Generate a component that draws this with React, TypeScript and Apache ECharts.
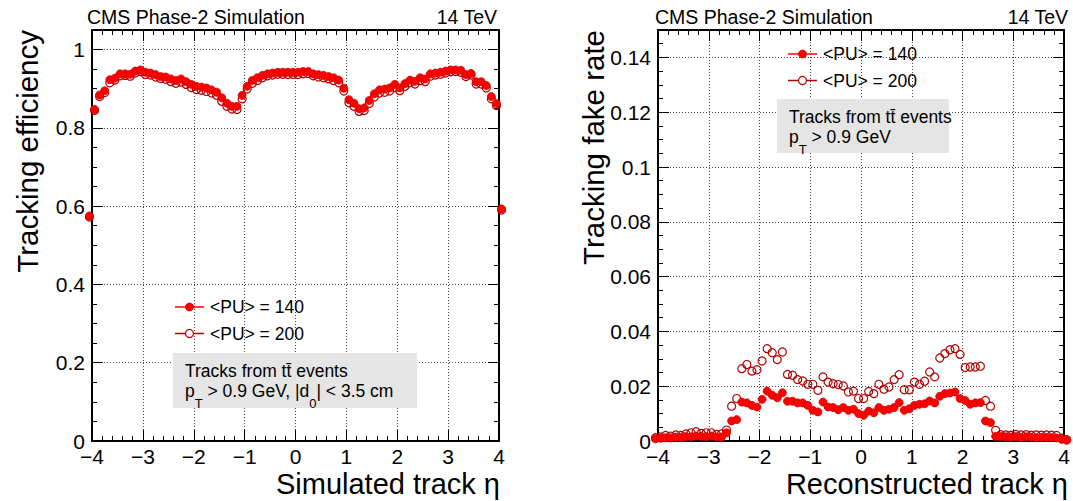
import React, { useEffect, useRef } from "react";
import * as echarts from "echarts";

// Bin centres in eta (0.1 wide bins)
const ETA = [
  -4.05, -3.95, -3.85, -3.75, -3.65, -3.55, -3.45, -3.35, -3.25, -3.15,
  -3.05, -2.95, -2.85, -2.75, -2.65, -2.55, -2.45, -2.35, -2.25, -2.15,
  -2.05, -1.95, -1.85, -1.75, -1.65, -1.55, -1.45, -1.35, -1.25, -1.15,
  -1.05, -0.95, -0.85, -0.75, -0.65, -0.55, -0.45, -0.35, -0.25, -0.15,
  -0.05, 0.05, 0.15, 0.25, 0.35, 0.45, 0.55, 0.65, 0.75, 0.85,
  0.95, 1.05, 1.15, 1.25, 1.35, 1.45, 1.55, 1.65, 1.75, 1.85,
  1.95, 2.05, 2.15, 2.25, 2.35, 2.45, 2.55, 2.65, 2.75, 2.85,
  2.95, 3.05, 3.15, 3.25, 3.35, 3.45, 3.55, 3.65, 3.75, 3.85,
  3.95, 4.05,
];

const EFF_PU140 = [
  0.575, 0.847, 0.884, 0.895, 0.923, 0.927, 0.938, 0.938, 0.937, 0.945,
  0.948, 0.942, 0.940, 0.936, 0.931, 0.930, 0.925, 0.921, 0.925, 0.918,
  0.911, 0.906, 0.904, 0.902, 0.897, 0.891, 0.877, 0.863, 0.855, 0.855,
  0.883, 0.906, 0.921, 0.928, 0.934, 0.938, 0.940, 0.942, 0.942, 0.942,
  0.942, 0.942, 0.944, 0.944, 0.938, 0.936, 0.934, 0.931, 0.928, 0.922,
  0.901, 0.872, 0.863, 0.849, 0.851, 0.870, 0.887, 0.897, 0.899, 0.902,
  0.911, 0.902, 0.913, 0.922, 0.919, 0.928, 0.925, 0.938, 0.940, 0.942,
  0.945, 0.948, 0.948, 0.947, 0.936, 0.939, 0.918, 0.918, 0.908, 0.880,
  0.862, 0.593,
];

const EFF_PU200 = [
  0.572, 0.845, 0.880, 0.890, 0.915, 0.922, 0.933, 0.934, 0.932, 0.940,
  0.944, 0.936, 0.935, 0.930, 0.926, 0.924, 0.918, 0.914, 0.917, 0.911,
  0.903, 0.898, 0.896, 0.893, 0.889, 0.883, 0.868, 0.855, 0.848, 0.847,
  0.874, 0.899, 0.914, 0.921, 0.928, 0.933, 0.935, 0.937, 0.937, 0.936,
  0.937, 0.936, 0.938, 0.939, 0.933, 0.930, 0.928, 0.925, 0.921, 0.915,
  0.894, 0.864, 0.855, 0.842, 0.844, 0.862, 0.879, 0.889, 0.891, 0.894,
  0.903, 0.895, 0.906, 0.915, 0.912, 0.921, 0.918, 0.932, 0.935, 0.937,
  0.940, 0.943, 0.944, 0.942, 0.931, 0.935, 0.912, 0.912, 0.902, 0.874,
  0.857, 0.590,
];

const FAKE_PU140 = [
  0.0008, 0.0010, 0.0012, 0.0011, 0.0014, 0.0013, 0.0016, 0.0015, 0.0018, 0.0017,
  0.0016, 0.0018, 0.0015, 0.0014, 0.0030, 0.0073, 0.0078, 0.0142, 0.0139, 0.0130,
  0.0124, 0.0152, 0.0182, 0.0167, 0.0158, 0.0176, 0.0145, 0.0145, 0.0139, 0.0139,
  0.0130, 0.0112, 0.0106, 0.0142, 0.0124, 0.0122, 0.0114, 0.0122, 0.0112, 0.0116,
  0.0100, 0.0094, 0.0109, 0.0103, 0.0122, 0.0112, 0.0116, 0.0122, 0.0140, 0.0112,
  0.0118, 0.0130, 0.0134, 0.0136, 0.0146, 0.0139, 0.0163, 0.0173, 0.0175, 0.0179,
  0.0155, 0.0148, 0.0134, 0.0139, 0.0140, 0.0073, 0.0067, 0.0017, 0.0016, 0.0015,
  0.0014, 0.0016, 0.0013, 0.0015, 0.0014, 0.0012, 0.0013, 0.0013, 0.0012, 0.0011,
  0.0006, 0.0003,
];

const FAKE_PU200 = [
  0.0012, 0.0015, 0.0020, 0.0018, 0.0022, 0.0020, 0.0026, 0.0030, 0.0034, 0.0028,
  0.0030, 0.0030, 0.0024, 0.0026, 0.0040, 0.0127, 0.0155, 0.0264, 0.0279, 0.0255,
  0.0260, 0.0292, 0.0337, 0.0322, 0.0297, 0.0325, 0.0243, 0.0240, 0.0224, 0.0219,
  0.0207, 0.0207, 0.0185, 0.0234, 0.0215, 0.0209, 0.0206, 0.0201, 0.0179, 0.0182,
  0.0155, 0.0155, 0.0181, 0.0173, 0.0207, 0.0189, 0.0197, 0.0224, 0.0242, 0.0187,
  0.0187, 0.0215, 0.0207, 0.0218, 0.0252, 0.0234, 0.0303, 0.0319, 0.0333, 0.0337,
  0.0316, 0.0268, 0.0270, 0.0270, 0.0273, 0.0148, 0.0127, 0.0039, 0.0023, 0.0022,
  0.0021, 0.0024, 0.0022, 0.0023, 0.0021, 0.0022, 0.0021, 0.0022, 0.0021, 0.0020,
  0.0010, 0.0005,
];

const X_TICKS = { min: -4, max: 4, interval: 1, minorSplit: 5 };
const EFF_AXIS = { min: 0, max: 1.05, interval: 0.2, minorInterval: 0.05 };
const FAKE_AXIS = { min: 0, max: 0.15, interval: 0.02, minorInterval: 0.005 };

const SERIES_NAMES = ["<PU> = 140", "<PU> = 200"];
const HEADER_LEFT = "CMS Phase-2 Simulation";
const HEADER_RIGHT = "14 TeV";

const FONT = "'Liberation Sans', Arial, Helvetica, sans-serif";
const RED = "#ff0000";
const DARKRED = "#b00000";

const GRIDS = [
  { left: 92, top: 30, width: 407, height: 411 },
  { left: 658, top: 30, width: 407, height: 411 },
];

function pairs(xs: number[], ys: number[]) {
  return xs.map((x, i) => [x, ys[i]]);
}

function minusFmt(v: number) {
  const r = Math.round(v);
  return r < 0 ? "\u2212" + Math.abs(r) : String(r);
}

function yFmt(interval: number) {
  return (v: number) => {
    const k = v / interval;
    if (Math.abs(k - Math.round(k)) > 1e-6) return "";
    return String(parseFloat(v.toFixed(4)));
  };
}

function xAxes(gi: number) {
  const common = {
    type: "value",
    gridIndex: gi,
    min: X_TICKS.min,
    max: X_TICKS.max,
    interval: X_TICKS.interval,
    axisLine: { show: true, onZero: false, lineStyle: { color: "#000", width: 2 } },
    axisTick: { show: true, inside: true, length: 11, lineStyle: { color: "#000", width: 1 } },
    minorTick: { show: true, splitNumber: X_TICKS.minorSplit, length: 5, lineStyle: { color: "#000", width: 1 } },
  };
  return [
    {
      ...common,
      position: "bottom",
      axisLabel: { show: true, margin: 5, fontSize: 21, color: "#000", fontFamily: FONT, formatter: minusFmt },
      splitLine: { show: true, lineStyle: { color: "#444", type: [1, 2], width: 1 } },
    },
    {
      ...common,
      position: "top",
      axisLabel: { show: false },
      splitLine: { show: false },
    },
  ];
}

function yAxes(gi: number, ax: { min: number; max: number; interval: number; minorInterval: number }) {
  const major = {
    type: "value",
    gridIndex: gi,
    min: ax.min,
    max: ax.max,
    interval: ax.interval,
    axisLine: { show: true, onZero: false, lineStyle: { color: "#000", width: 2 } },
    axisTick: { show: true, inside: true, length: 11, lineStyle: { color: "#000", width: 1 } },
  };
  const minor = {
    type: "value",
    gridIndex: gi,
    min: ax.min,
    max: ax.max,
    interval: ax.minorInterval,
    axisLine: { show: false, onZero: false },
    axisTick: { show: true, inside: true, length: 5, lineStyle: { color: "#000", width: 1 } },
    axisLabel: { show: false },
    splitLine: { show: false },
  };
  return [
    {
      ...major,
      position: "left",
      axisLabel: { show: true, margin: 7, fontSize: 21, color: "#000", fontFamily: FONT, formatter: yFmt(ax.interval) },
      splitLine: { show: true, lineStyle: { color: "#444", type: [1, 2], width: 1 } },
    },
    { ...minor, position: "left" },
    { ...major, position: "right", axisLabel: { show: false }, splitLine: { show: false } },
    { ...minor, position: "right" },
  ];
}

function scatter(xi: number, yi: number, name: string, data: number[][], filled: boolean) {
  return {
    type: "scatter",
    name,
    xAxisIndex: xi,
    yAxisIndex: yi,
    data,
    clip: false,
    symbol: "circle",
    symbolSize: 8,
    z: filled ? 4 : 3,
    itemStyle: filled
      ? { color: RED, borderColor: "#d00000", borderWidth: 0.8, opacity: 1 }
      : { color: "rgba(255,255,255,0)", borderColor: DARKRED, borderWidth: 1.2, opacity: 1 },
  };
}

function text(x: number, y: number, str: string, size: number, align = "left", extra: any = {}) {
  return {
    type: "text",
    x,
    y,
    z: 10,
    ...extra,
    style: { text: str, fontSize: size, fontFamily: FONT, fill: "#000", align, verticalAlign: "middle" },
  };
}

function legendEntry(x: number, y: number, label: string, filled: boolean) {
  const color = filled ? RED : DARKRED;
  return [
    { type: "line", z: 10, shape: { x1: x, y1: y, x2: x + 29, y2: y }, style: { stroke: color, lineWidth: 1.5 } },
    {
      type: "circle",
      z: 11,
      shape: { cx: x + 14.5, cy: y, r: 4 },
      style: filled ? { fill: RED, stroke: "#d00000", lineWidth: 0.8 } : { fill: "#fff", stroke: DARKRED, lineWidth: 1.2 },
    },
    text(x + 35, y, label, 17.5),
  ];
}

const RICH = {
  a: { fontSize: 17.5, fontFamily: FONT, lineHeight: 20, verticalAlign: "top", fill: "#000", color: "#000" },
  s: { fontSize: 13, fontFamily: FONT, lineHeight: 28, verticalAlign: "bottom", fill: "#000", color: "#000" },
};

function infoBox(x: number, y: number, w: number, h: number, line2: string) {
  return [
    { type: "rect", z: 9, shape: { x, y, width: w, height: h }, style: { fill: "#e5e5e5" } },
    text(x + 12, y + 18, "Tracks from t\u0074\u0304 events", 17.5),
    {
      type: "text",
      x: x + 12,
      y: y + 29,
      z: 10,
      style: { text: line2, rich: RICH, fontFamily: FONT, fill: "#000", align: "left", verticalAlign: "top" },
    },
  ];
}

export default function App() {
  const ref = useRef<HTMLDivElement>(null);

  useEffect(() => {
    if (!ref.current) return;
    const chart = echarts.init(ref.current, undefined, { renderer: "svg" });

    const graphic: any[] = [
      // headers
      text(87, 17, HEADER_LEFT, 19.5),
      text(497, 17, HEADER_RIGHT, 19.5, "right"),
      text(655, 17, HEADER_LEFT, 19.5),
      text(1068, 17, HEADER_RIGHT, 19.5, "right"),
      // axis titles
      text(27, 30, "Tracking efficiency", 29.5, "right", { rotation: Math.PI / 2 }),
      text(593, 30, "Tracking fake rate", 29.5, "right", { rotation: Math.PI / 2 }),
      text(500, 484, "Simulated track \u03b7", 29, "right"),
      text(1068, 484, "Reconstructed track \u03b7", 29, "right"),
      // legends
      ...legendEntry(175, 307, SERIES_NAMES[0], true),
      ...legendEntry(175, 333.5, SERIES_NAMES[1], false),
      ...legendEntry(788, 54, SERIES_NAMES[0], true),
      ...legendEntry(788, 80.5, SERIES_NAMES[1], false),
      ...infoBox(173, 353, 244, 55, "{a|p}{s|T}{a| > 0.9 GeV, |d}{s|0}{a|| < 3.5 cm}"),
      ...infoBox(777, 99, 172, 54, "{a|p}{s|T}{a| > 0.9 GeV}"),
    ];

    chart.setOption({
      animation: false,
      backgroundColor: "#fff",
      textStyle: { fontFamily: FONT },
      grid: GRIDS.map((g) => ({ ...g, containLabel: false })),
      xAxis: [...xAxes(0), ...xAxes(1)],
      yAxis: [...yAxes(0, EFF_AXIS), ...yAxes(1, FAKE_AXIS)],
      series: [
        scatter(0, 0, SERIES_NAMES[1], pairs(ETA, EFF_PU200), false),
        scatter(0, 0, SERIES_NAMES[0], pairs(ETA, EFF_PU140), true),
        scatter(2, 4, SERIES_NAMES[1], pairs(ETA, FAKE_PU200), false),
        scatter(2, 4, SERIES_NAMES[0], pairs(ETA, FAKE_PU140), true),
      ],
      graphic,
    });

    return () => chart.dispose();
  }, []);

  return (
    <div
      ref={ref}
      style={{ position: "absolute", left: 0, top: 0, width: 1073, height: 501 }}
    />
  );
}
